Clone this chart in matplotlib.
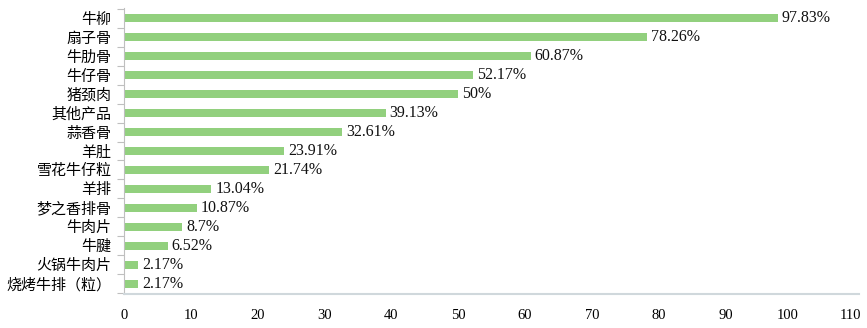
import matplotlib
matplotlib.use("Agg")
import matplotlib.pyplot as plt
import matplotlib.transforms as mtransforms
from matplotlib.ticker import FixedLocator

categories = ["牛柳", "扇子骨", "牛肋骨", "牛仔骨", "猪颈肉", "其他产品", "蒜香骨", "羊肚",
              "雪花牛仔粒", "羊排", "梦之香排骨", "牛肉片", "牛腱", "火锅牛肉片", "烧烤牛排（粒）"]
values = [97.83, 78.26, 60.87, 52.17, 50, 39.13, 32.61, 23.91,
          21.74, 13.04, 10.87, 8.7, 6.52, 2.17, 2.17]
x_ticks = [0, 10, 20, 30, 40, 50, 60, 70, 80, 90, 100, 110]

fig = plt.figure(figsize=(8.67, 3.28), dpi=100)
ax = fig.add_axes([0.143, 0.1037, 0.848, 0.872])

pos = list(range(len(categories)))
ax.barh(pos, values, height=0.42, color="#92d07e")

for p, v in zip(pos, values):
    ax.text(v + 0.6, p, f"{v:g}%", va="center", ha="left",
            fontsize=11.5, family="Liberation Serif", color="#111111")

ax.set_xlim(0, 110)
ax.set_ylim(14.55, -0.55)
ax.set_xticks(x_ticks)
ax.set_xticklabels([str(t) for t in x_ticks], family="Liberation Serif", fontsize=10.5)
ax.set_yticks(pos)
ax.set_yticklabels(categories, family=["Noto Sans CJK SC", "DejaVu Sans"], fontsize=10.8)
ax.yaxis.set_minor_locator(FixedLocator([p - 0.5 for p in pos] + [14.5]))
ax.tick_params(axis="y", which="major", length=0, pad=9)
ax.tick_params(axis="y", which="minor", length=5, color="#bfbfbf", width=0.8)
ax.tick_params(axis="x", length=0, pad=11)

# pull the rightmost tick labels inward so they stay inside the canvas
xlabels = ax.get_xticklabels()
for lbl, dx in ((xlabels[-2], -5), (xlabels[-1], -9)):
    shift = mtransforms.ScaledTranslation(dx / 100, 0, fig.dpi_scale_trans)
    lbl.set_transform(lbl.get_transform() + shift)

for s in ["top", "right"]:
    ax.spines[s].set_visible(False)
ax.spines["left"].set_color("#bfbfbf")
ax.spines["left"].set_linewidth(0.8)
ax.spines["bottom"].set_color("#d0d8dc")
ax.spines["bottom"].set_linewidth(1.5)

fig.savefig("out.png", dpi=100)
